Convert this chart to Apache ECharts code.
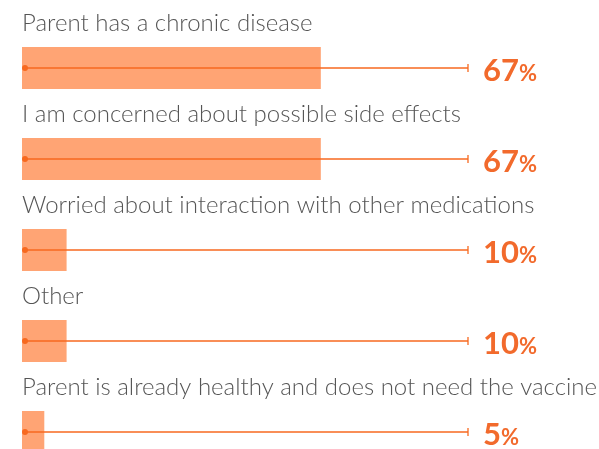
<!DOCTYPE html>
<html>
<head>
<meta charset="utf-8">
<script src="https://cdn.jsdelivr.net/npm/echarts@6/dist/echarts.min.js"></script>
<style>
  html, body { margin: 0; padding: 0; background: #fff; }
  #chart { width: 599px; height: 449px; }
</style>
</head>
<body>
<div id="chart"></div>
<script>
// data
const categories = [
  'Parent has a chronic disease',
  'I am concerned about possible side effects',
  'Worried about interaction with other medications',
  'Other',
  'Parent is already healthy and does not need the vaccine'
];
const values = [67, 67, 10, 10, 5];

const barColor = '#FFA474';
const lineColor = '#F7691F';
const textColor = '#F26A2C';

const chart = echarts.init(document.getElementById('chart'));

chart.setOption({
  animation: false,
  grid: { left: 22, width: 446, top: 22.5, height: 455, outerBoundsMode: 'none', containLabel: false },
  xAxis: { type: 'value', min: 0, max: 100, show: false },
  yAxis: { type: 'category', data: categories, inverse: true, show: false },
  series: [
    {
      type: 'bar',
      data: values,
      barWidth: 42,
      itemStyle: { color: barColor },
      z: 1,
      silent: true
    },
    {
      type: 'custom',
      data: values.map((v, i) => [v, i]),
      z: 5,
      silent: true,
      renderItem: function (params, api) {
        const i = api.value(1);
        const v = api.value(0);
        const start = api.coord([0, i]);
        const end = api.coord([100, i]);
        return {
          type: 'group',
          children: [
            {
              type: 'line',
              shape: { x1: start[0] + 3, y1: start[1], x2: end[0], y2: end[1] },
              style: { stroke: lineColor, lineWidth: 1.3 }
            },
            {
              type: 'line',
              shape: { x1: end[0], y1: end[1] - 4, x2: end[0], y2: end[1] + 4 },
              style: { stroke: lineColor, lineWidth: 1.3 }
            },
            {
              type: 'circle',
              shape: { cx: start[0] + 3, cy: start[1], r: 3 },
              style: { fill: lineColor }
            },
            {
              type: 'text',
              style: {
                x: start[0],
                y: start[1] - 45,
                text: categories[i],
                fill: '#555555',
                font: '300 24px Lato',
                verticalAlign: 'middle'
              }
            },
            {
              type: 'text',
              style: {
                x: end[0] + 15,
                y: end[1] + 3,
                text: '{n|' + v + '}{p|%}',
                verticalAlign: 'middle',
                rich: {
                  n: { fontFamily: 'Lato', fontWeight: 'bold', fontSize: 31, fill: textColor, color: textColor },
                  p: { fontFamily: 'Lato', fontWeight: 'bold', fontSize: 22, fill: textColor, color: textColor, padding: [6, 0, 0, 0] }
                }
              }
            }
          ]
        };
      }
    }
  ]
});
</script>
</body>
</html>
